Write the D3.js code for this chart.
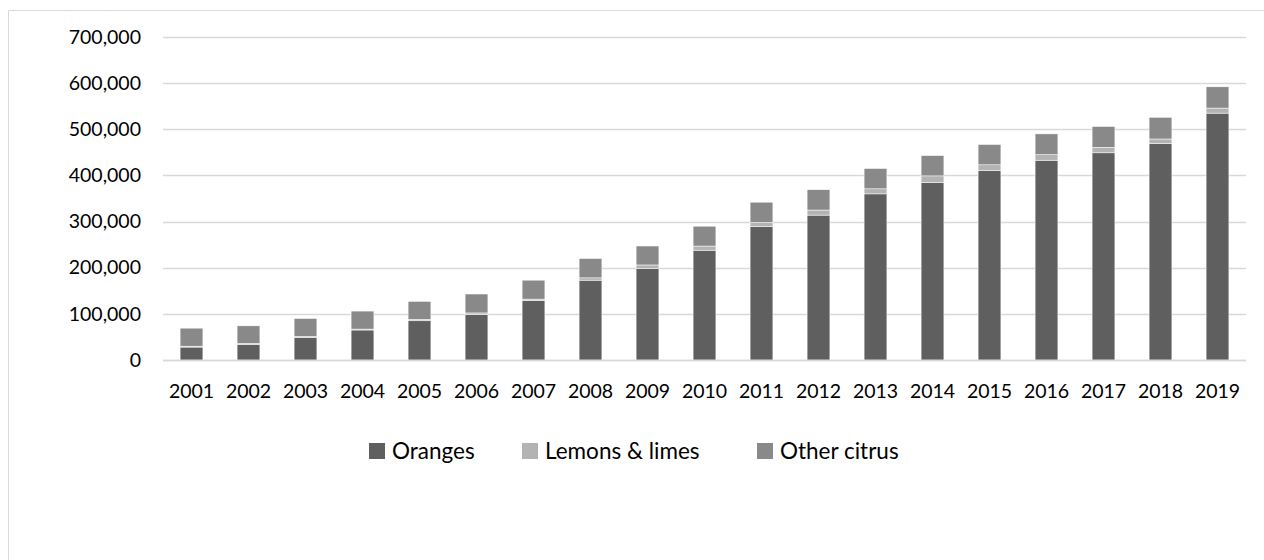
<!DOCTYPE html>
<html>
<head>
<meta charset="utf-8">
<script src="https://cdn.jsdelivr.net/npm/d3@7"></script>
<style>
  body { margin: 0; background: #fff; }
  svg { display: block; font-family: Lato, "Open Sans", sans-serif; }
</style>
</head>
<body>
<div id="wrapper"></div>
<script>
// data (tonnes)
const years = ["2001","2002","2003","2004","2005","2006","2007","2008","2009","2010",
               "2011","2012","2013","2014","2015","2016","2017","2018","2019"];
const oranges = [28000, 34000, 49000, 65000, 85000, 99000, 129000, 173000, 198000, 238000,
                 289000, 314000, 360000, 385000, 411000, 433000, 449000, 469000, 535000];
const lemons  = [2000, 2000, 2000, 2000, 3000, 3000, 3000, 5000, 8000, 9000,
                 9000, 11000, 11000, 14000, 12000, 12000, 12000, 10000, 11000];
const other   = [39000, 38000, 39000, 39000, 39000, 41000, 41000, 42000, 41000, 43000,
                 44000, 44000, 44000, 44000, 44000, 45000, 45000, 47000, 46000];
const seriesNames = ["Oranges", "Lemons & limes", "Other citrus"];
const yTicks = [0, 100000, 200000, 300000, 400000, 500000, 600000, 700000];

const colors = ["#5f5f5f", "#b3b3b3", "#898989"];

// build rows for d3.stack
const rows = years.map((y, i) => ({
  year: y,
  "Oranges": oranges[i],
  "Lemons & limes": lemons[i],
  "Other citrus": other[i]
}));

const width = 1264, height = 560;
const dimensions = { left: 163, right: 1246, top: 37, bottom: 360 };

const svg = d3.select("#wrapper").append("svg")
  .attr("width", width)
  .attr("height", height);

// outer chart frame (runs off the right/bottom of the picture)
svg.append("path")
  .attr("d", `M8.5,${height + 5} V10.5 H${width + 5}`)
  .attr("fill", "none")
  .attr("stroke", "#d9d9d9")
  .attr("stroke-width", 1);

const xScale = d3.scaleBand()
  .domain(years)
  .range([dimensions.left, dimensions.right])
  .paddingInner(0.6)
  .paddingOuter(0.3);

const yScale = d3.scaleLinear()
  .domain([0, 700000])
  .range([dimensions.bottom, dimensions.top]);

// gridlines
svg.append("g")
  .selectAll("line")
  .data(yTicks)
  .join("line")
  .attr("x1", dimensions.left)
  .attr("x2", dimensions.right)
  .attr("y1", d => Math.round(yScale(d)) + 0.5)
  .attr("y2", d => Math.round(yScale(d)) + 0.5)
  .attr("stroke", "#d9d9d9")
  .attr("stroke-width", 1.3);

// y axis labels
const yAxis = svg.append("g")
  .attr("transform", `translate(${dimensions.left},0)`)
  .call(d3.axisLeft(yScale).tickValues(yTicks).tickSize(0).tickPadding(22)
    .tickFormat(d3.format(",")));
yAxis.select(".domain").remove();
yAxis.selectAll("text")
  .attr("fill", "#000")
  .style("font-size", "19.5px")
  .style("font-family", "Lato, sans-serif");

// stacked bars
const stacked = d3.stack().keys(seriesNames)(rows);

svg.append("g")
  .selectAll("g")
  .data(stacked)
  .join("g")
  .attr("fill", (d, i) => colors[i])
  .selectAll("rect")
  .data(d => d)
  .join("rect")
  .attr("x", d => xScale(d.data.year))
  .attr("width", xScale.bandwidth())
  .attr("y", d => yScale(d[1]))
  .attr("height", d => yScale(d[0]) - yScale(d[1]))
  .attr("stroke", "#ffffff")
  .attr("stroke-width", 0.5);

// x axis line
svg.append("line")
  .attr("x1", dimensions.left)
  .attr("x2", dimensions.right)
  .attr("y1", dimensions.bottom + 0.5)
  .attr("y2", dimensions.bottom + 0.5)
  .attr("stroke", "#d9d9d9")
  .attr("stroke-width", 1.3);

// x axis labels
const xAxis = svg.append("g")
  .attr("transform", `translate(0,${dimensions.bottom})`)
  .call(d3.axisBottom(xScale).tickSize(0).tickPadding(0));
xAxis.select(".domain").remove();
xAxis.selectAll("text")
  .attr("dy", null)
  .attr("y", 37.5)
  .attr("fill", "#000")
  .style("font-size", "19.5px")
  .style("font-family", "Lato, sans-serif");

// legend
const legendX = [369, 522, 757];
const legend = svg.append("g")
  .selectAll("g")
  .data(seriesNames)
  .join("g")
  .attr("transform", (d, i) => `translate(${legendX[i]},443)`);

legend.append("rect")
  .attr("width", 16)
  .attr("height", 16)
  .attr("fill", (d, i) => colors[i]);

legend.append("text")
  .attr("x", 23)
  .attr("y", 15.5)
  .attr("fill", "#000")
  .style("font-size", "22.5px")
  .text(d => d);
</script>
</body>
</html>
